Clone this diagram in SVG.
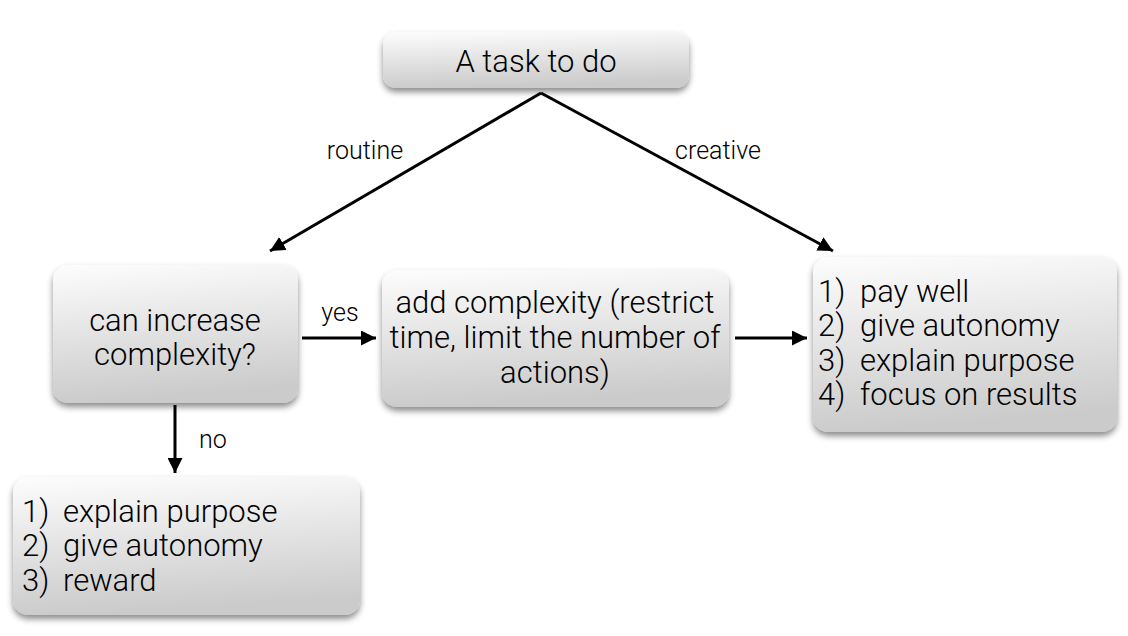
<svg xmlns="http://www.w3.org/2000/svg" width="1128" height="636" viewBox="0 0 1128 636">
<defs>
<linearGradient id="g" x1="0" y1="0" x2="0.15" y2="1">
<stop offset="0" stop-color="#fdfdfd"/>
<stop offset="1" stop-color="#cbcbcb"/>
</linearGradient>
<filter id="sh" x="-10%" y="-10%" width="120%" height="130%">
<feDropShadow dx="0" dy="4" stdDeviation="3" flood-color="#000" flood-opacity="0.45"/>
</filter>
<marker id="ah" viewBox="0 0 10 10" refX="10" refY="5" markerWidth="5" markerHeight="5" markerUnits="strokeWidth" orient="auto">
<path d="M0,0 L10,5 L0,10 z" fill="#000"/>
</marker>
<style>
.box{fill:url(#g);filter:url(#sh);}
.t{font-family:Roboto,"Liberation Sans",Arial,sans-serif;font-weight:300;font-size:31px;fill:#000;}
.c{text-anchor:middle;}
.lbl{font-family:Roboto,"Liberation Sans",Arial,sans-serif;font-weight:300;font-size:25px;fill:#000;text-anchor:middle;}
.ln{stroke:#000;stroke-width:3;fill:none;marker-end:url(#ah);}
</style>
</defs>
<rect width="1128" height="636" fill="#fff"/>
<g id="connectors">
<line class="ln" x1="541" y1="93" x2="270" y2="251"/>
<line class="ln" x1="541" y1="93" x2="833" y2="251"/>
<line class="ln" x1="302" y1="338" x2="376" y2="338"/>
<line class="ln" x1="175" y1="405" x2="175" y2="473"/>
<line class="ln" x1="735" y1="338" x2="807" y2="338"/>
<text class="lbl" x="365" y="159">routine</text>
<text class="lbl" x="718" y="159">creative</text>
<text class="lbl" x="340" y="321">yes</text>
<text class="lbl" x="213" y="448">no</text>
</g>
<g id="task">
<rect class="box" x="383" y="32" width="306" height="56" rx="13"/>
<text class="t c" x="536" y="72">A task to do</text>
</g>
<g id="question">
<rect class="box" x="53" y="265" width="245" height="138" rx="15"/>
<text class="t c" x="175" y="331">can increase</text>
<text class="t c" x="175" y="365">complexity?</text>
</g>
<g id="addcomplexity">
<rect class="box" x="382" y="270" width="347" height="137" rx="15"/>
<text class="t c" x="555" y="313">add complexity (restrict</text>
<text class="t c" x="555" y="348">time, limit the number of</text>
<text class="t c" x="555" y="383">actions)</text>
</g>
<g id="creative">
<rect class="box" x="813" y="257" width="304" height="175" rx="15"/>
<text class="t"><tspan x="818" y="302">1)</tspan><tspan x="860" y="302">pay well</tspan></text>
<text class="t"><tspan x="818" y="336">2)</tspan><tspan x="860" y="336">give autonomy</tspan></text>
<text class="t"><tspan x="818" y="371">3)</tspan><tspan x="860" y="371">explain purpose</tspan></text>
<text class="t"><tspan x="818" y="405">4)</tspan><tspan x="860" y="405">focus on results</tspan></text>
</g>
<g id="routine">
<rect class="box" x="13" y="477" width="347" height="138" rx="15"/>
<text class="t"><tspan x="22" y="522">1)</tspan><tspan x="63" y="522">explain purpose</tspan></text>
<text class="t"><tspan x="22" y="556">2)</tspan><tspan x="63" y="556">give autonomy</tspan></text>
<text class="t"><tspan x="22" y="591">3)</tspan><tspan x="63" y="591">reward</tspan></text>
</g>
</svg>
